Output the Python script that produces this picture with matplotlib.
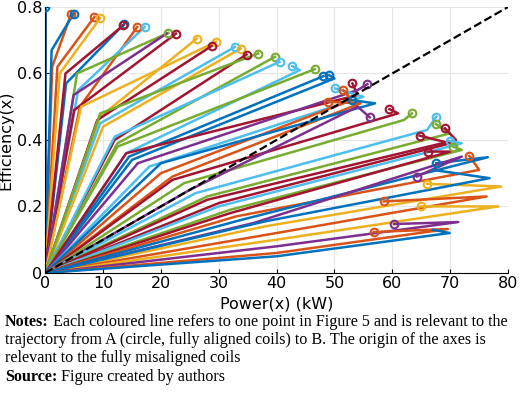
import matplotlib
matplotlib.use("Agg")
import matplotlib.pyplot as plt

C = {'b': '#0072BD', 'o': '#D95319', 'y': '#EDB120', 'p': '#7E2F8E',
     'g': '#77AC30', 'l': '#4DBEEE', 'r': '#A2142F'}

colors = ['r','b','o','b','o','y','b','r','o','l','g','r','p','y','y','r','l','y','r','g','g','l','l','g','b','b','r','p','l','o','o','b','r','g','p','l','g','r','r','l','g','r','o','b','p','y','o','y','b','p','o','b']
circ_x = [0,0,4.5,4.9,8.5,9.5,13.7,13.5,15.9,17.2,21.3,22.6,21.0,26.2,29.5,28.8,32.8,33.8,34.8,36.8,39.7,40.5,42.7,46.6,48.1,49.1,53.1,55.7,50.1,51.5,48.9,53.0,59.5,63.4,56.1,67.6,67.5,69.1,64.7,69.9,70.5,66.1,73.3,67.6,64.2,66.0,58.5,64.9,67.0,60.3,56.8,67.0]
circ_y = [0.79,0.80,0.78,0.78,0.77,0.767,0.75,0.745,0.74,0.74,0.722,0.72,0.72,0.705,0.695,0.683,0.68,0.675,0.657,0.66,0.65,0.635,0.622,0.613,0.592,0.595,0.57,0.568,0.555,0.55,0.515,0.52,0.493,0.48,0.468,0.47,0.448,0.435,0.413,0.397,0.38,0.365,0.352,0.33,0.29,0.268,0.215,0.2,0.31,0.147,0.123,0.13]
knee_x = [0,0,1.2,1.1,2.1,2.5,3.6,3.5,6.0,5.7,5.5,5.0,4.9,9.5,6.2,9.0,9.5,10.0,12.0,9.5,12.5,12.0,14.0,12.5,14.5,15.0,14.0,16.0,18.0,20.0,22.0,20.0,22.0,24.0,25.0,26.0,28.0,28.0,30.0,30.0,32.0,32.0,33.0,34.0,36.0,38.0,40.0,40.0,38.0,40.0,40.0,40.0]
knee_y = [0.5,0.4,0.62,0.67,0.62,0.60,0.57,0.60,0.50,0.55,0.60,0.49,0.535,0.47,0.50,0.46,0.45,0.44,0.40,0.48,0.39,0.41,0.36,0.38,0.35,0.34,0.36,0.33,0.32,0.30,0.29,0.33,0.28,0.27,0.25,0.24,0.23,0.22,0.21,0.20,0.19,0.18,0.17,0.16,0.15,0.14,0.12,0.10,0.155,0.08,0.06,0.05]
tip_x = [0,0,4.5,4.9,8.5,9.5,13.7,13.5,15.9,17.2,21.3,22.6,21.0,26.2,29.5,28.8,32.8,33.8,34.8,36.8,39.7,40.5,44.0,46.6,48.1,50.0,54.0,54.0,55.0,53.0,54.5,57.0,61.0,62.0,54.0,66.0,70.0,71.0,70.0,72.0,72.0,70.0,75.0,76.5,72.0,78.8,76.3,78.3,76.8,71.4,69.6,69.9]
tip_y = [0.79,0.80,0.78,0.78,0.77,0.767,0.75,0.745,0.74,0.74,0.722,0.72,0.72,0.705,0.695,0.683,0.68,0.675,0.657,0.66,0.65,0.635,0.61,0.613,0.592,0.585,0.535,0.55,0.53,0.52,0.51,0.51,0.48,0.46,0.50,0.43,0.42,0.40,0.39,0.39,0.37,0.365,0.31,0.348,0.35,0.26,0.23,0.20,0.285,0.153,0.132,0.12]
has_circle = [False,True]+[True]*10+[False]+[True]*35+[False,True,True,False]

diag_x = [0, 80]
diag_y = [0, 0.8]
xticks = [0,10,20,30,40,50,60,70,80]
yticks = [0,0.2,0.4,0.6,0.8]

fig = plt.figure(figsize=(5.2,4.11), dpi=100)
ax = fig.add_axes([0.087,0.336,0.89,0.647])
for i in range(len(colors)):
    c = C[colors[i]]
    ax.plot([0,knee_x[i],tip_x[i],circ_x[i]],[0,knee_y[i],tip_y[i],circ_y[i]],color=c,lw=1.8,zorder=2)
    if has_circle[i]:
        ax.plot([circ_x[i]],[circ_y[i]],'o',mfc='none',mec=c,ms=5.5,mew=1.5,zorder=3)
ax.plot(diag_x, diag_y, 'k--', lw=1.6, zorder=4)
ax.set_xlim(0,80); ax.set_ylim(0,0.8)
ax.set_xticks(xticks); ax.set_yticks(yticks)
ax.set_yticklabels(['0','0.2','0.4','0.6','0.8'])
ax.tick_params(labelsize=11.5, direction='in', length=3, pad=2)
ax.grid(True, color='#e6e6e6', lw=0.8)
ax.set_axisbelow(True)
for s in ['top','right']:
    ax.spines[s].set_visible(False)
ax.set_xlabel('Power(x) (kW)', fontsize=11.5)
ax.set_ylabel('Efficiency(x)', fontsize=11.5)
ax.xaxis.set_label_coords(0.5, -0.09)
ax.yaxis.set_label_coords(-0.069, 0.5)

serif = 'Liberation Serif'
fs = 11.6
lines = [("Notes:", " Each coloured line refers to one point in Figure 5 and is relevant to the"),
         ("", "trajectory from A (circle, fully aligned coils) to B. The origin of the axes is"),
         ("", "relevant to the fully misaligned coils"),
         ("Source:", " Figure created by authors")]
ys = [322, 340, 358, 377]
fig.canvas.draw()
r = fig.canvas.get_renderer()
for (b, t), yp in zip(lines, ys):
    x0 = 5/520
    yf = 1 - yp/411
    if b:
        tb = fig.text(x0, yf, b, fontsize=fs, family=serif, weight='bold', va='center')
        w = tb.get_window_extent(r).width / 520
    else:
        w = 0
    fig.text(x0 + w, yf, t, fontsize=fs, family=serif, va='center')
fig.savefig('out.png', dpi=100)
